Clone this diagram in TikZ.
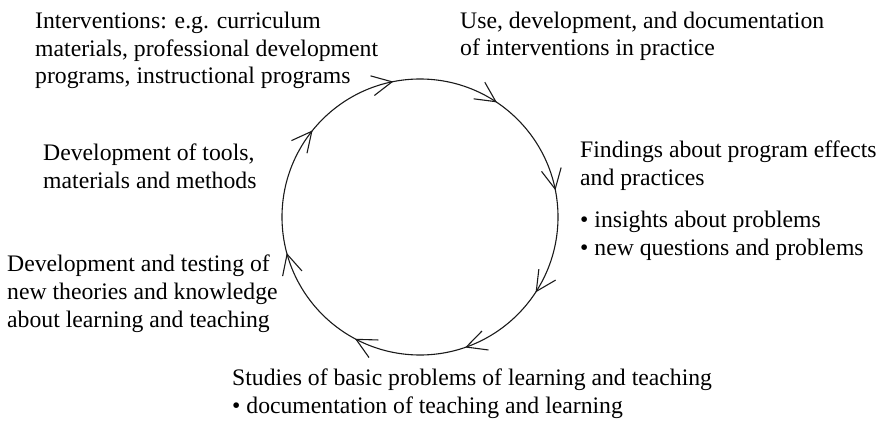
\documentclass[tikz,border=0pt]{standalone}
\usepackage{fontspec}
\setmainfont{Liberation Serif}
\usepackage{tikz}
\usetikzlibrary{arrows.meta,decorations.markings}
\definecolor{cycleink}{HTML}{1A1A1A}
\tikzset{barb/.tip={Straight Barb[length=20pt,width=20pt]}}

\begin{document}
\begin{tikzpicture}[x=1pt,y=1pt,
    stagetext/.style={font=\fontsize{23.7}{27.7}\selectfont, align=left,
      anchor=base west, inner sep=0pt, text=black}]
  \useasboundingbox (0,0) rectangle (886,421);
  \coordinate (hub) at (420,204);

  % the cycle, traversed clockwise, with open arrowheads along it
  \draw[cycleink, line width=1.1pt, postaction={decorate},
    decoration={markings,
      mark=at position 0.092 with {\arrow{barb}},
      mark=at position 0.197 with {\arrow{barb}},
      mark=at position 0.328 with {\arrow{barb}},
      mark=at position 0.458 with {\arrow{barb}},
      mark=at position 0.608 with {\arrow{barb}},
      mark=at position 0.719 with {\arrow{barb}},
      mark=at position 0.844 with {\arrow{barb}},
      mark=at position 0.969 with {\arrow{barb}}}]
    (hub) ++(0:138) arc[start angle=360, end angle=0, radius=138];

  % stages round the cycle (anchored on the baseline of the last line)
  \node[stagetext] (interventions) at (35,337)
    {Interventions: e.g. curriculum\\materials, professional development\\programs, instructional programs};
  \node[stagetext] (practice) at (460,365)
    {Use, development, and documentation\\of interventions in practice};
  \node[stagetext] (findings) at (580,166)
    {Findings about program effects\\and practices\\[14pt]%
     \textbullet\ insights about problems\\\textbullet\ new questions and problems};
  \node[stagetext] (studies) at (232,8)
    {Studies of basic problems of learning and teaching\\\textbullet\ documentation of teaching and learning};
  \node[stagetext] (theories) at (7,94)
    {Development and testing of\\new theories and knowledge\\about learning and teaching};
  \node[stagetext] (tools) at (43,233)
    {Development of tools,\\materials and methods};
\end{tikzpicture}
\end{document}
